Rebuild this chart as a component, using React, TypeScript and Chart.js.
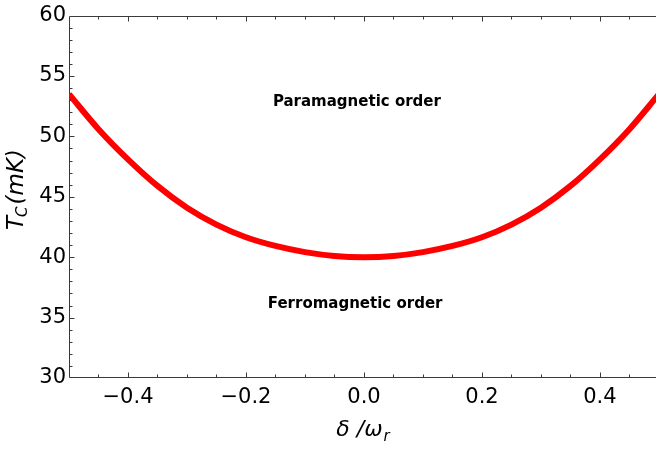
import { useEffect, useRef } from "react";
import { Chart, registerables } from "chart.js";

Chart.register(...registerables);

// ---- data ----
const deltaOverOmega = [
  -0.5, -0.45, -0.4, -0.35, -0.3, -0.25, -0.2, -0.15, -0.1, -0.05, 0,
  0.05, 0.1, 0.15, 0.2, 0.25, 0.3, 0.35, 0.4, 0.45, 0.5,
];
const tcValues = [
  53.5, 50.6, 48.1, 45.9, 44.1, 42.7, 41.65, 40.93, 40.42, 40.1, 40.0,
  40.1, 40.42, 40.93, 41.65, 42.7, 44.1, 45.9, 48.1, 50.6, 53.5,
];
const xTickValues = [-0.4, -0.2, 0, 0.2, 0.4];
const yTickValues = [30, 35, 40, 45, 50, 55, 60];
const regionLabels = ["Paramagnetic order", "Ferromagnetic order"];
const regionLabelX = [-0.012, -0.015];
const regionLabelY = [52.8, 36.1];

const AXIS_COLOR = "#3a3a3a";
const TICK_FONT = "DejaVu Sans";

const framePlugin = {
  id: "frameTicks",
  beforeDatasetsDraw(chart: any) {
    const { ctx, chartArea: a, scales } = chart;
    const x = scales.x;
    const y = scales.y;
    ctx.save();
    ctx.strokeStyle = AXIS_COLOR;
    ctx.lineWidth = 1;
    ctx.beginPath();
    const L = Math.round(a.left) + 0.5;
    const B = Math.round(a.bottom) - 0.5;
    const T = Math.round(a.top) + 0.5;
    ctx.moveTo(L, T);
    ctx.lineTo(L, B);
    ctx.lineTo(a.right + 2, B);
    ctx.moveTo(L, T);
    ctx.lineTo(a.right + 2, T);
    // x ticks (bottom and top), minor every 0.05, major every 0.2
    for (let i = -10; i <= 10; i++) {
      const v = i * 0.05;
      const px = Math.round(x.getPixelForValue(v)) + 0.5;
      if (px > a.right || px < a.left + 1) continue;
      const len = i % 4 === 0 ? 5 : 3;
      ctx.moveTo(px, B);
      ctx.lineTo(px, B - len);
      ctx.moveTo(px, T);
      ctx.lineTo(px, T + len);
    }
    // y ticks, minor every 1, major every 5
    for (let v = 30; v <= 60; v++) {
      const py = Math.round(y.getPixelForValue(v)) + 0.5;
      if (py > B - 1 || py < T + 1) continue;
      const len = v % 5 === 0 ? 5 : 3;
      ctx.moveTo(L, py);
      ctx.lineTo(L + len, py);
    }
    ctx.stroke();
    ctx.restore();
  },
  afterDraw(chart: any) {
    const { ctx, chartArea: a, scales } = chart;
    const x = scales.x;
    const y = scales.y;
    ctx.save();
    ctx.fillStyle = "#000";
    // region labels
    ctx.font = `bold 15px "${TICK_FONT}"`;
    ctx.textAlign = "center";
    ctx.textBaseline = "middle";
    regionLabels.forEach((t, i) => {
      ctx.fillText(t, x.getPixelForValue(regionLabelX[i]), y.getPixelForValue(regionLabelY[i]));
    });

    // x-axis title: δ /ω_r
    ctx.textAlign = "left";
    ctx.textBaseline = "alphabetic";
    const mainFont = `italic 22px "${TICK_FONT}"`;
    const subFont = `italic 15px "${TICK_FONT}"`;
    ctx.font = mainFont;
    const xMain = "δ /ω";
    const wMain = ctx.measureText(xMain).width;
    ctx.font = subFont;
    const wSub = ctx.measureText("r").width;
    const cx = (a.left + a.right) / 2;
    const startX = cx - (wMain + wSub) / 2;
    const baseY = 436;
    ctx.font = mainFont;
    ctx.fillText(xMain, startX, baseY);
    ctx.font = subFont;
    ctx.fillText("r", startX + wMain + 1, baseY + 5);

    // y-axis title: T_C(mK)
    ctx.save();
    ctx.font = `italic 23px "${TICK_FONT}"`;
    const wT = ctx.measureText("T").width;
    const wRest = ctx.measureText("(mK)").width;
    ctx.font = `italic 15px "${TICK_FONT}"`;
    const wC = ctx.measureText("C").width;
    const total = wT + wC + 2 + wRest;
    const cy = 189;
    ctx.translate(23, cy + total / 2);
    ctx.rotate(-Math.PI / 2);
    ctx.font = `italic 23px "${TICK_FONT}"`;
    ctx.fillText("T", 0, 0);
    ctx.font = `italic 15px "${TICK_FONT}"`;
    ctx.fillText("C", wT - 1, 4);
    ctx.font = `italic 23px "${TICK_FONT}"`;
    ctx.fillText("(mK)", wT + wC + 1, 0);
    ctx.restore();

    ctx.restore();
  },
};

export default function App() {
  const ref = useRef<HTMLCanvasElement | null>(null);
  useEffect(() => {
    if (!ref.current) return;
    const chart = new Chart(ref.current, {
      type: "line",
      data: {
        datasets: [
          {
            data: deltaOverOmega.map((d, i) => ({ x: d, y: tcValues[i] })),
            borderColor: "#ff0000",
            borderWidth: 6,
            pointRadius: 0,
            fill: false,
            cubicInterpolationMode: "monotone",
          },
        ],
      },
      options: {
        animation: false,
        responsive: false,
        maintainAspectRatio: false,
        layout: { padding: { top: 13, right: 0, left: 0, bottom: 0 } },
        plugins: { legend: { display: false }, tooltip: { enabled: false } },
        scales: {
          x: {
            type: "linear",
            min: -0.5,
            max: 0.495,
            grid: { display: false, drawTicks: false },
            border: { display: false },
            afterBuildTicks: (s: any) => {
              s.ticks = xTickValues.map((v) => ({ value: v }));
            },
            afterFit: (s: any) => {
              s.height = 74;
            },
            ticks: {
              autoSkip: false,
              maxRotation: 0,
              padding: 7,
              color: "#000",
              font: { family: TICK_FONT, size: 21 },
              callback: (v: any) => {
                const n = Number(v);
                const s = Math.abs(n).toFixed(1);
                return n < -1e-9 ? "\u2212" + s : s;
              },
            },
          },
          y: {
            type: "linear",
            min: 30,
            max: 60,
            grid: { display: false, drawTicks: false },
            border: { display: false },
            afterBuildTicks: (s: any) => {
              s.ticks = yTickValues.map((v) => ({ value: v }));
            },
            afterFit: (s: any) => {
              s.width = 69;
            },
            ticks: {
              autoSkip: false,
              padding: 3,
              color: "#000",
              font: { family: TICK_FONT, size: 21 },
              callback: (v: any) => String(v),
            },
          },
        },
      },
      plugins: [framePlugin],
    });
    return () => chart.destroy();
  }, []);
  return (
    <div style={{ position: "fixed", left: 0, top: 0, width: 656, height: 452, background: "#fff" }}>
      <canvas ref={ref} width={656} height={452} style={{ width: 656, height: 452, display: "block" }} />
    </div>
  );
}
